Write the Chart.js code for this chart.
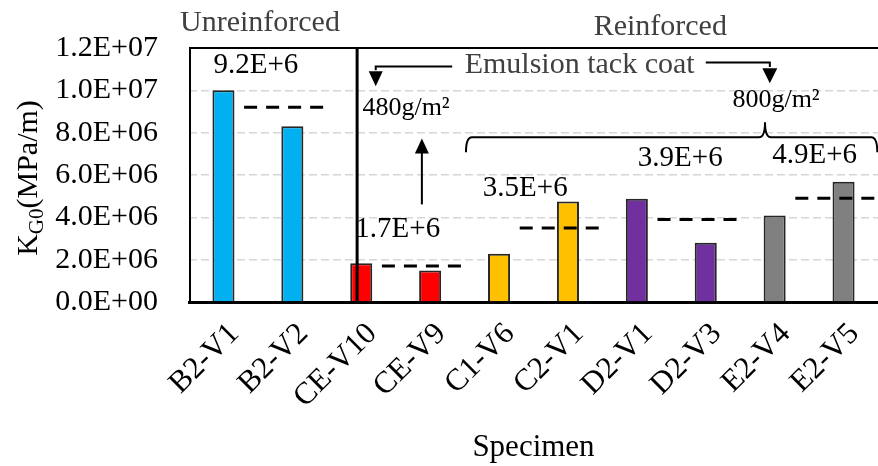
<!DOCTYPE html>
<html>
<head>
<meta charset="utf-8">
<script src="https://cdn.jsdelivr.net/npm/chart.js@4.4.1/dist/chart.umd.min.js"></script>
<style>
  html, body { margin: 0; padding: 0; background: #fff; }
  #wrap { position: relative; width: 878px; height: 466px; }
</style>
</head>
<body>
<div id="wrap"><canvas id="chart"></canvas></div>
<script>
// ---- data ----
const specimens = ['B2-V1', 'B2-V2', 'CE-V10', 'CE-V9', 'C1-V6', 'C2-V1', 'D2-V1', 'D2-V3', 'E2-V4', 'E2-V5'];
const kG0 = [1.0e7, 8.3e6, 1.83e6, 1.49e6, 2.28e6, 4.75e6, 4.88e6, 2.8e6, 4.09e6, 5.68e6];
const pairStart = [0, 2, 4, 6, 8];                 // first specimen of each pair
const pairMean = [9.2e6, 1.7e6, 3.5e6, 3.9e6, 4.9e6];
const pairMeanLabels = ['9.2E+6', '1.7E+6', '3.5E+6', '3.9E+6', '4.9E+6'];
const yTickValues = [0, 2e6, 4e6, 6e6, 8e6, 1.0e7, 1.2e7];
const yTickLabels = ['0.0E+00', '2.0E+06', '4.0E+06', '6.0E+06', '8.0E+06', '1.0E+07', '1.2E+07'];

// ---- styling ----
const pairColors = ['#00B0F0', '#FF0000', '#FFC000', '#7030A0', '#808080'];
const SERIF = "'Liberation Serif', 'Times New Roman', serif";
const tickFont = { family: SERIF, size: 30 };
// where each mean label sits, in (category index, value) units
const meanLabelAt = [[0.47, 11.18e6], [2.53, 3.43e6], [4.38, 5.37e6], [6.63, 6.78e6], [8.58, 6.93e6]];

const meanSets = pairStart.map((s, i) => ({
  type: 'line',
  xAxisID: 'x2',
  yAxisID: 'y',
  data: [{ x: s + 0.3, y: pairMean[i] }, { x: Math.min(s + 1.45, 9.5), y: pairMean[i] }],
  borderColor: '#000',
  borderWidth: 3,
  borderDash: [13, 9],
  pointRadius: 0,
  fill: false,
  order: 1
}));

function line(ctx, x1, y1, x2, y2, w) {
  ctx.lineWidth = w;
  ctx.beginPath(); ctx.moveTo(x1, y1); ctx.lineTo(x2, y2); ctx.stroke();
}
function head(ctx, x, tipY, baseY, half) {
  ctx.beginPath();
  ctx.moveTo(x, tipY); ctx.lineTo(x - half, baseY); ctx.lineTo(x + half, baseY); ctx.closePath();
  ctx.fill();
}

const notes = {
  id: 'notes',
  afterDatasetsDraw(chart) {
    const { ctx, chartArea: a, scales: { x2, y } } = chart;
    const X = v => x2.getPixelForValue(v);
    const Y = v => y.getPixelForValue(v);
    ctx.save();
    ctx.strokeStyle = '#000';
    ctx.fillStyle = '#000';
    ctx.lineCap = 'butt';

    // frame: top line, left edge, unreinforced / reinforced divider
    line(ctx, a.left, a.top, a.right, a.top, 2);
    line(ctx, a.left + 1, a.top, a.left + 1, a.bottom, 2);
    line(ctx, X(1.94), a.top, X(1.94), a.bottom, 3);

    // group headings
    ctx.textAlign = 'center';
    ctx.textBaseline = 'middle';
    ctx.fillStyle = '#404040';
    ctx.font = `30px ${SERIF}`;
    ctx.fillText('Unreinforced', X(0.53), Y(13.17e6));
    ctx.fillText('Reinforced', X(6.34), Y(12.98e6));
    ctx.fillText('Emulsion tack coat', X(5.17), Y(11.18e6));

    // pair means
    ctx.fillStyle = '#000';
    ctx.font = `29px ${SERIF}`;
    pairMeanLabels.forEach((t, i) => ctx.fillText(t, X(meanLabelAt[i][0]), Y(meanLabelAt[i][1])));

    // tack coat rates
    ctx.font = `26px ${SERIF}`;
    ctx.fillText('480g/m\u00B2', X(2.65), Y(9.15e6));
    ctx.fillText('800g/m\u00B2', X(8.02), Y(9.53e6));

    // arrows from the tack coat heading
    ctx.lineWidth = 2;
    ctx.beginPath();
    ctx.moveTo(X(3.32), Y(11.13e6)); ctx.lineTo(X(2.21), Y(11.13e6)); ctx.lineTo(X(2.21), Y(10.95e6));
    ctx.stroke();
    head(ctx, X(2.21), Y(10.19e6), Y(10.9e6), 7);

    ctx.beginPath();
    ctx.moveTo(X(7.0), Y(11.32e6)); ctx.lineTo(X(7.93), Y(11.32e6)); ctx.lineTo(X(7.93), Y(11.1e6));
    ctx.stroke();
    head(ctx, X(7.93), Y(10.33e6), Y(11.04e6), 7.5);

    // arrow up to the 480 g/m² rate
    line(ctx, X(2.88), Y(4.61e6), X(2.88), Y(7.1e6), 2);
    head(ctx, X(2.88), Y(7.73e6), Y(7.02e6), 7);

    // brace over the 800 g/m² specimens
    const xl = X(3.52), xr = X(9.49), xc = X(7.86);
    const yh = Y(7.78e6), yt = Y(8.49e6), ye = Y(7.07e6), r = 6;
    ctx.lineWidth = 2;
    ctx.beginPath();
    ctx.moveTo(xl, ye);
    ctx.quadraticCurveTo(xl, yh, xl + r, yh);
    ctx.lineTo(xc - r, yh);
    ctx.quadraticCurveTo(xc, yh, xc, yt);
    ctx.moveTo(xc, yt);
    ctx.quadraticCurveTo(xc, yh, xc + r, yh);
    ctx.lineTo(xr - r, yh);
    ctx.quadraticCurveTo(xr, yh, xr, ye);
    ctx.stroke();

    // y-axis title with subscript
    ctx.translate(37, 178);
    ctx.rotate(-Math.PI / 2);
    ctx.textBaseline = 'alphabetic';
    ctx.textAlign = 'left';
    const main = `30px ${SERIF}`, sub = `21px ${SERIF}`;
    ctx.font = main; const wK = ctx.measureText('K').width;
    ctx.font = sub; const wG = ctx.measureText('G0').width;
    ctx.font = main; const wR = ctx.measureText('(MPa/m)').width;
    let tx = -(wK + wG + wR) / 2;
    ctx.font = main; ctx.fillText('K', tx, 0); tx += wK;
    ctx.font = sub; ctx.fillText('G0', tx, 6); tx += wG;
    ctx.font = main; ctx.fillText('(MPa/m)', tx, 0);
    ctx.restore();
  }
};

new Chart(document.getElementById('chart'), {
  type: 'bar',
  data: {
    labels: specimens,
    datasets: [
      {
        type: 'bar',
        xAxisID: 'x',
        yAxisID: 'y',
        data: kG0,
        backgroundColor: kG0.map((_, i) => pairColors[Math.floor(i / 2)]),
        borderColor: '#262626',
        borderWidth: 2,
        borderSkipped: 'bottom',
        grouped: false,
        barPercentage: 0.32,
        categoryPercentage: 1,
        order: 2
      },
      ...meanSets
    ]
  },
  options: {
    responsive: true,
    maintainAspectRatio: false,
    animation: false,
    layout: { padding: { top: 48, left: 0, right: 0, bottom: 0 } },
    plugins: { legend: { display: false }, tooltip: { enabled: false } },
    scales: {
      x: {
        type: 'category',
        offset: true,
        grid: { display: false, drawTicks: false },
        border: { color: '#000', width: 3 },
        ticks: {
          font: { family: SERIF, size: 31 }, color: '#000', autoSkip: false,
          maxRotation: 45, minRotation: 45, padding: 14, labelOffset: 11
        },
        title: { display: true, text: 'Specimen', font: { family: SERIF, size: 31, lineHeight: 1 }, color: '#000', padding: { top: 0, bottom: 3 } },
        afterFit: s => { s.height = 164; s.paddingLeft = 0; s.paddingRight = 0; }
      },
      x2: { type: 'linear', min: -0.5, max: 9.5, offset: false, display: false },
      y: {
        min: 0, max: 1.2e7,
        afterBuildTicks: s => { s.ticks = yTickValues.map(v => ({ value: v })); },
        ticks: {
          font: tickFont, color: '#000', padding: 31,
          callback: v => yTickLabels[yTickValues.indexOf(v)]
        },
        grid: {
          drawTicks: false,
          lineWidth: 1.5,
          color: c => (c.tick && (c.tick.value === 0 || c.tick.value === 1.2e7)) ? 'rgba(0,0,0,0)' : '#d6d6d6'
        },
        border: { display: false, dash: [8, 4] },
        afterFit: s => { s.width = 189; s.paddingTop = 0; s.paddingBottom = 0; }
      }
    }
  },
  plugins: [notes]
});
</script>
</body>
</html>
